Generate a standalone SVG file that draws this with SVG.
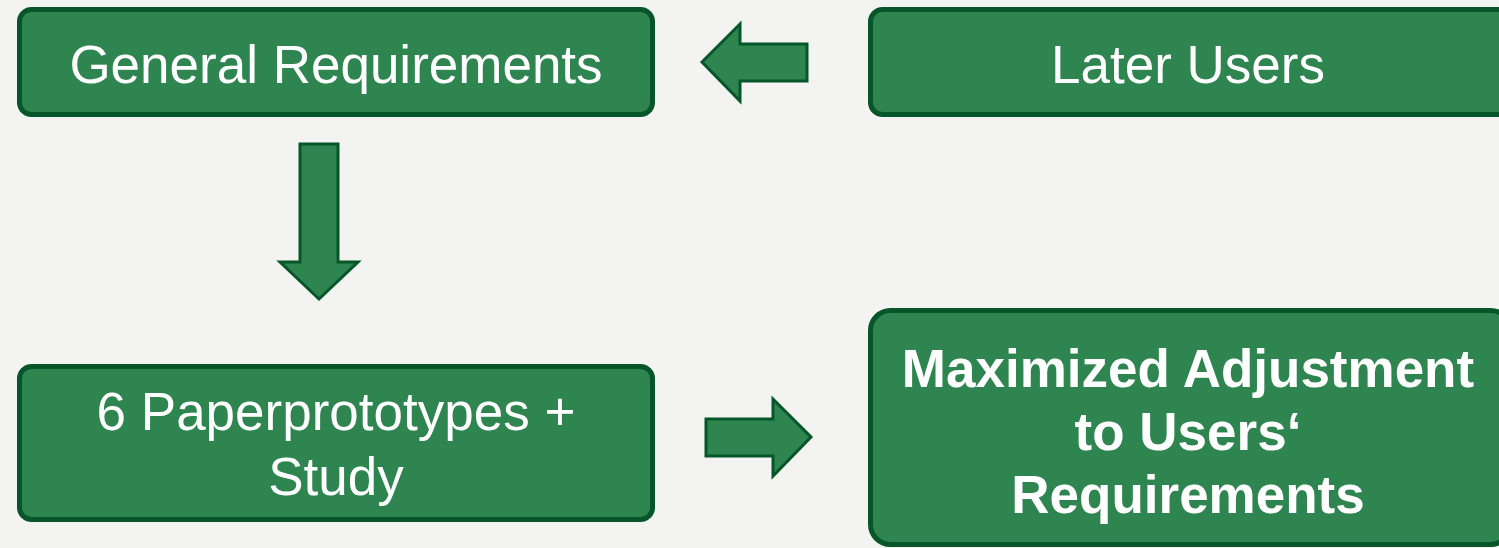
<svg xmlns="http://www.w3.org/2000/svg" width="1499" height="548" viewBox="0 0 1499 548">
<style>
.box{fill:#2e8550;stroke:#07562a;stroke-width:5}
.arr{fill:#2e8550;stroke:#07562a;stroke-width:3;stroke-linejoin:miter}
.t{fill:#ffffff;font-family:"Liberation Sans",Arial,sans-serif;font-size:53px;text-anchor:middle}
.b{font-weight:bold}
</style>
<rect width="1499" height="548" fill="#f3f3f1"/>
<g id="general-requirements">
<rect class="box" x="19.5" y="9.5" width="633" height="105" rx="12"/>
<text class="t" x="336" y="83">General Requirements</text>
</g>
<g id="later-users">
<rect class="box" x="870.5" y="9.5" width="640" height="105" rx="12"/>
<text class="t" x="1188" y="83">Later Users</text>
</g>
<g id="paperprototypes">
<rect class="box" x="19.5" y="366.5" width="633" height="153" rx="12"/>
<text class="t" x="336" y="430">6 Paperprototypes +</text>
<text class="t" x="336" y="495">Study</text>
</g>
<g id="maximized-adjustment">
<rect class="box" x="870.5" y="310.5" width="640" height="234" rx="20"/>
<text class="t b" x="1188" y="387">Maximized Adjustment</text>
<text class="t b" x="1188" y="450">to Users‘</text>
<text class="t b" x="1188" y="513">Requirements</text>
</g>
<g id="connectors">
<polygon class="arr" points="702,62 740,24 740,44 807,44 807,81 740,81 740,101"/>
<polygon class="arr" points="300,144 338,144 338,262 358,262 319,299 280,262 300,262"/>
<polygon class="arr" points="706,419 773,419 773,399 811,437 773,476 773,456 706,456"/>
</g>
</svg>
